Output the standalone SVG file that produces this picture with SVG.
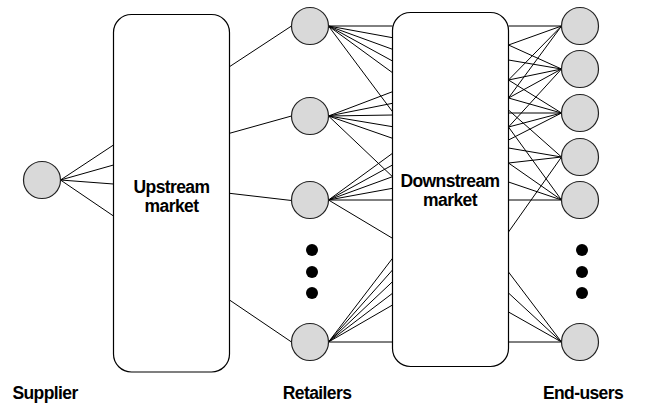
<svg xmlns="http://www.w3.org/2000/svg" width="648" height="408" viewBox="0 0 648 408">
  <style>
    .edge { stroke: #000; stroke-width: 1; fill: none; }
    .market { fill: #fff; stroke: #000; stroke-width: 1.2; }
    .agent { fill: #d9d9d9; stroke: #222; stroke-width: 1.2; }
    .dot { fill: #000; }
    .lbl { font-family: "Liberation Sans", Arial, sans-serif; font-weight: bold; font-size: 17.5px; letter-spacing: -0.6px; fill: #000; text-anchor: middle; }
  </style>

  <!-- connectors -->
  <g id="connectors" class="edge">
    <!-- supplier to upstream market -->
    <path d="M60.5 180 L113.5 145 M60.5 180 L113.5 165 M60.5 180 L113.5 184 M60.5 180 L113.5 216"/>
    <!-- upstream market to retailers -->
    <path d="M229.5 66.7 L291.5 26 M229.5 133.3 L291.5 116 M229.5 193.3 L291.5 200.5 M229.5 300 L291.5 342"/>
    <!-- retailers to downstream market -->
    <path d="M328.5 26 L392.5 26 M328.5 26 L392.5 37.7 M328.5 26 L392.5 49.3 M328.5 26 L392.5 61 M328.5 26 L392.5 72.7 M328.5 26 L392.5 111.7"/>
    <path d="M328.5 116 L392.5 91.7 M328.5 116 L392.5 103.3 M328.5 116 L392.5 115 M328.5 116 L392.5 126.7 M328.5 116 L392.5 138.3 M328.5 116 L392.5 176.7"/>
    <path d="M328.5 200 L392.5 153.3 M328.5 200 L392.5 165 M328.5 200 L392.5 176.7 M328.5 200 L392.5 188.3 M328.5 200 L392.5 200 M328.5 200 L392.5 238.3"/>
    <path d="M328.5 342 L392.5 258.3 M328.5 342 L392.5 270 M328.5 342 L392.5 281.7 M328.5 342 L392.5 293.3 M328.5 342 L392.5 305 M328.5 342 L392.5 342"/>
    <!-- downstream market to end-users -->
    <path d="M508.5 26 L561.5 26 M508.5 45 L561.5 26 M508.5 80 L561.5 26 M508.5 98 L561.5 26"/>
    <path d="M508.5 45 L561.5 69 M508.5 60 L561.5 69 M508.5 80 L561.5 69 M508.5 98 L561.5 69 M508.5 127 L561.5 69"/>
    <path d="M508.5 80 L561.5 113 M508.5 98 L561.5 113 M508.5 113 L561.5 113 M508.5 127 L561.5 113 M508.5 140 L561.5 113"/>
    <path d="M508.5 110 L561.5 157 M508.5 148 L561.5 157 M508.5 163 L561.5 157 M508.5 232 L561.5 157"/>
    <path d="M508.5 127 L561.5 200 M508.5 163 L561.5 200 M508.5 182 L561.5 200 M508.5 200 L561.5 200"/>
    <path d="M508.5 272 L561.5 342 M508.5 293 L561.5 342 M508.5 312 L561.5 342 M508.5 342 L561.5 342"/>
  </g>

  <g id="upstream-market">
    <rect class="market" x="113.5" y="14.5" width="116" height="357.5" rx="18"/>
    <text class="lbl" x="171.5" y="193">Upstream</text>
    <text class="lbl" x="171.5" y="212">market</text>
  </g>

  <g id="downstream-market">
    <rect class="market" x="392.5" y="12.5" width="116" height="354" rx="18"/>
    <text class="lbl" x="450" y="187">Downstream</text>
    <text class="lbl" x="450" y="206">market</text>
  </g>

  <g id="supplier">
    <circle class="agent" cx="42" cy="180" r="18.5"/>
  </g>

  <g id="retailers">
    <circle class="agent" cx="310" cy="26" r="18.5"/>
    <circle class="agent" cx="310" cy="116" r="18.5"/>
    <circle class="agent" cx="310" cy="200" r="18.5"/>
    <circle class="dot" cx="312" cy="250" r="6"/>
    <circle class="dot" cx="312" cy="272" r="6"/>
    <circle class="dot" cx="312" cy="293" r="6"/>
    <circle class="agent" cx="310" cy="342" r="18.5"/>
  </g>

  <g id="end-users">
    <circle class="agent" cx="580" cy="26" r="18.5"/>
    <circle class="agent" cx="580" cy="69" r="18.5"/>
    <circle class="agent" cx="580" cy="113" r="18.5"/>
    <circle class="agent" cx="580" cy="157" r="18.5"/>
    <circle class="agent" cx="580" cy="200" r="18.5"/>
    <circle class="dot" cx="582" cy="250" r="6"/>
    <circle class="dot" cx="582" cy="272" r="6"/>
    <circle class="dot" cx="582" cy="293" r="6"/>
    <circle class="agent" cx="580" cy="342" r="18.5"/>
  </g>

  <g id="labels">
    <text class="lbl" x="45" y="399">Supplier</text>
    <text class="lbl" x="317" y="399">Retailers</text>
    <text class="lbl" x="583" y="399">End-users</text>
  </g>
</svg>
